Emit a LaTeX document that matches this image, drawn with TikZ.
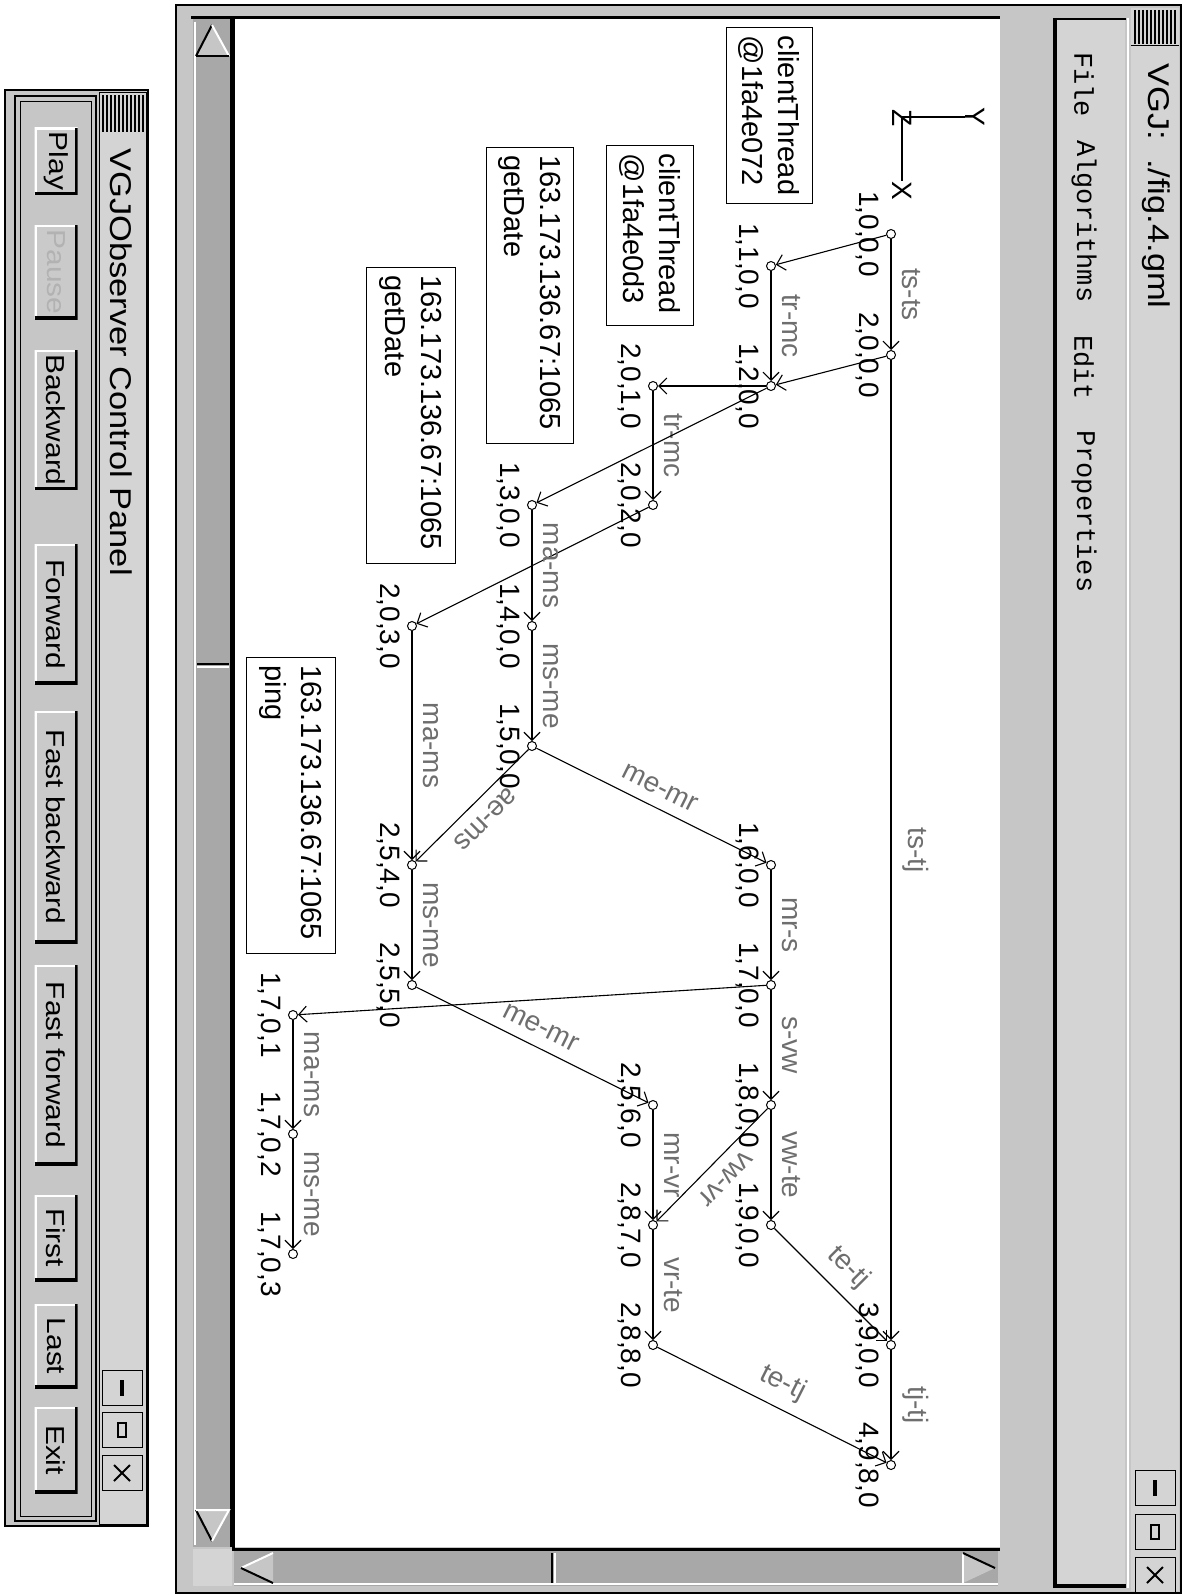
\documentclass[tikz,border=0pt]{standalone}
\usepackage{fontspec}
\setmainfont{Liberation Sans}
\newfontfamily\menufont{Liberation Mono}
\newfontfamily\widefont[FakeStretch=1.15]{Liberation Sans}
\usetikzlibrary{arrows.meta}
\definecolor{winbg}{HTML}{C6C6C6}
\definecolor{barbg}{HTML}{D4D4D4}
\definecolor{trough}{HTML}{A8A8A8}
\definecolor{btnface}{HTML}{CACACA}
\definecolor{lblgray}{HTML}{6E6E6E}

\begin{document}
\begin{tikzpicture}[x=1pt,y=-1pt,
    vtx/.style={circle,draw,fill=white,line width=1pt,minimum size=9pt,inner sep=0pt},
    cl/.style={rotate=-90,anchor=north,inner sep=0pt,font=\fontsize{28}{30}\selectfont},
    el/.style={sloped,allow upside down,above=11pt,inner sep=0pt,text=lblgray,font=\fontsize{28}{30}\selectfont},
    msg/.style={line width=1.1pt,-{Straight Barb[length=8pt,width=16pt]}},
    infobox/.style={draw,line width=1.2pt,rotate=-90,anchor=north west,align=left,inner xsep=8pt,inner ysep=0pt,font=\fontsize{29}{36}\selectfont},
    wtitle/.style={rotate=-90,anchor=west,inner sep=0pt,font=\widefont\fontsize{30}{32}\selectfont},
    mitem/.style={rotate=-90,anchor=west,inner sep=0pt,font=\menufont\fontsize{27}{29}\selectfont},
    btn/.style={rotate=-90,fill=btnface,minimum height=43pt,inner xsep=4pt,font=\widefont\fontsize{26}{28}\selectfont,
      path picture={
        \draw[white,line width=4pt] (path picture bounding box.south west) -- (path picture bounding box.north west) -- (path picture bounding box.north east);
        \draw[line width=6pt] (path picture bounding box.south west) -- (path picture bounding box.south east) -- (path picture bounding box.north east);}},
    wbtn/.style={draw,fill=barbg,line width=1pt,minimum width=40pt,minimum height=35pt,inner sep=0pt}]
\useasboundingbox (0,0) rectangle (1184,1595);

% control panel window
\draw[fill=winbg,line width=1.5pt] (5,90) rectangle (148,1526);
\draw[fill=barbg] (99,92) rectangle (146,1524);
\foreach \g in {103,107,...,143} \draw[line width=1.2pt] (\g,95) -- (\g,132);
\node[wtitle] (cptitle) at (121,148) {VGJObserver Control Panel};
\draw[line width=2pt] (15,96) rectangle (96,1521);
\draw[line width=0.8pt] (20,101) rectangle (91,1516);
\node[btn,minimum width=67pt] (bplay) at (56,161) {Play};
\node[btn,minimum width=94pt,text=gray!60] (bpause) at (56,272) {Pause};
\node[btn,minimum width=128pt] (bback) at (56,420) {Backward};
\node[btn,minimum width=140pt] (bfwd) at (56,614) {Forward};
\node[btn,minimum width=232pt] (bfback) at (56,827) {Fast backward};
\node[btn,minimum width=200pt] (bffwd) at (56,1065) {Fast forward};
\node[btn,minimum width=86pt] (bfirst) at (56,1238) {First};
\node[btn,minimum width=84pt] (blast) at (56,1346) {Last};
\node[btn,minimum width=86pt] (bexit) at (56,1450) {Exit};
\node[wbtn] (cpmin) at (122,1388) {};
\node[wbtn] (cpmax) at (122,1430) {};
\node[wbtn] (cpclose) at (122,1473) {};
\fill (cpmin.center) ++(-2,-8) rectangle ++(4,16);
\draw[line width=2.5pt] (cpmax.center) ++(-4,-7) rectangle ++(8,14);
\draw[line width=2pt] (cpclose.center) ++(-8,-8) -- ++(16,16) ++(0,-16) -- ++(-16,16);

% main window frame
\draw[fill=winbg,line width=1.5pt] (176,5) rectangle (1181,1593);
\fill[trough] (193,19) rectangle (232,1547);
\draw[white,line width=2pt] (195,22) -- (195,1545);
\fill[trough] (234,1550) rectangle (998,1586);
\draw[white,line width=2pt] (234,1584) -- (998,1584);
\fill[barbg] (193,1549) rectangle (232,1586);
\fill[white] (234,19) rectangle (1000,1547);
\draw[line width=3pt] (191,18) -- (1000,18);
\draw[line width=3pt] (233,18) -- (233,1549) -- (1000,1549);
\draw[line width=2pt] (231,19) -- (231,1547);
% scroll arrows and thumbs
\fill[winbg] (196,56) -- (212,25) -- (229,56) -- cycle;
\draw[line width=2pt] (196,56) -- (212,25);
\draw[white,line width=2pt] (212,25) -- (229,56);
\draw[line width=2pt] (196,56) -- (229,56);
\fill[winbg] (196,1510) -- (212,1541) -- (229,1510) -- cycle;
\draw[line width=2pt] (196,1510) -- (212,1541);
\draw[white,line width=2pt] (212,1541) -- (229,1510) -- (196,1510);
\draw[line width=2.5pt] (197,664) -- (229,664);
\draw[white,line width=2pt] (197,667) -- (229,667);
\fill[winbg] (241,1568) -- (273,1553) -- (273,1583) -- cycle;
\draw[white,line width=2pt] (241,1568) -- (273,1553);
\draw[line width=2pt] (241,1568) -- (273,1583);
\fill[winbg] (995,1568) -- (963,1553) -- (963,1583) -- cycle;
\draw[white,line width=2pt] (963,1583) -- (963,1553);
\draw[line width=2pt] (963,1553) -- (995,1568);
\draw[line width=2.5pt] (552,1553) -- (552,1583);
\draw[white,line width=2pt] (555,1553) -- (555,1583);
% menu bar and title bar
\draw[line width=4pt] (1055,18) -- (1055,1586) -- (1126,1586);
\draw[line width=2pt] (1055,19) -- (1126,19);
\fill[barbg] (1057,20) rectangle (1125,1584);
\draw[white,line width=2pt] (1128,18) -- (1128,1588);
\fill[barbg] (1131,8) rectangle (1179,1591);
\foreach \g in {1135,1139,...,1175} \draw[line width=1.2pt] (\g,10) -- (\g,44);
\draw[line width=1pt] (1131,46) -- (1179,46);
\node[wtitle] (wintitle) at (1156,63) {VGJ:\ \ ./fig.4.gml};
\node[mitem] (mfile) at (1084,52) {File};
\node[mitem] (malg) at (1084,140) {Algorithms};
\node[mitem] (medit) at (1084,335) {Edit};
\node[mitem] (mprop) at (1084,430) {Properties};
\node[wbtn] (wmin) at (1155,1488) {};
\node[wbtn] (wmax) at (1155,1532) {};
\node[wbtn] (wclose) at (1155,1575) {};
\fill (wmin.center) ++(-2,-8) rectangle ++(4,16);
\draw[line width=2.5pt] (wmax.center) ++(-4,-7) rectangle ++(8,14);
\draw[line width=2pt] (wclose.center) ++(-8,-8) -- ++(16,16) ++(0,-16) -- ++(-16,16);

% axes
\coordinate (ao) at (902,117);
\node[cl,anchor=center] (az) at (902,118) {Z};
\node[cl,anchor=center] (ay) at (975,117) {Y};
\node[cl,anchor=center] (ax) at (902,191) {X};
\draw[line width=1.2pt] (ao) -- (ay.south);
\draw[line width=1.2pt] (ao) -- (ax.west);

% info boxes
\node[infobox,text width=160pt,minimum height=86pt] (ct1) at (813,27) {clientThread\\@1fa4e072};
\node[infobox,text width=164pt,minimum height=87pt] (ct2) at (694,145) {clientThread\\@1fa4e0d3};
\node[infobox,text width=280pt,minimum height=87pt] (ip1) at (574,147) {163.173.136.67:1065\\getDate};
\node[infobox,text width=280pt,minimum height=89pt] (ip2) at (456,267) {163.173.136.67:1065\\getDate};
\node[infobox,text width=280pt,minimum height=89pt] (ip3) at (336,657) {163.173.136.67:1065\\ping};

% vertices
\node[vtx] (a1) at (891,234) {};
\node[vtx] (a2) at (891,355) {};
\node[vtx] (a3) at (891,1345) {};
\node[vtx] (a4) at (891,1465) {};
\node[vtx] (b1) at (771,266) {};
\node[vtx] (b2) at (771,386) {};
\node[vtx] (b3) at (771,865) {};
\node[vtx] (b4) at (771,985) {};
\node[vtx] (b5) at (771,1105) {};
\node[vtx] (b6) at (771,1225) {};
\node[vtx] (c1) at (653,386) {};
\node[vtx] (c2) at (653,505) {};
\node[vtx] (c3) at (653,1105) {};
\node[vtx] (c4) at (653,1225) {};
\node[vtx] (c5) at (653,1345) {};
\node[vtx] (d1) at (532,505) {};
\node[vtx] (d2) at (532,626) {};
\node[vtx] (d3) at (532,746) {};
\node[vtx] (e1) at (412,626) {};
\node[vtx] (e2) at (412,865) {};
\node[vtx] (e3) at (412,985) {};
\node[vtx] (f1) at (293,1015) {};
\node[vtx] (f2) at (293,1134) {};
\node[vtx] (f3) at (293,1254) {};

% messages
\draw[msg] (a1) -- node[el] {ts-ts} (a2);
\draw[msg] (a2) -- node[el] {ts-tj} (a3);
\draw[msg] (a3) -- node[el] {tj-tj} (a4);
\draw[msg] (a1) -- (b1);
\draw[msg] (b1) -- node[el] {tr-mc} (b2);
\draw[msg] (a2) -- (b2);
\draw[msg] (b2) -- (c1);
\draw[msg] (c1) -- node[el] {tr-mc} (c2);
\draw[msg] (b2) -- (d1);
\draw[msg] (c2) -- (e1);
\draw[msg] (d1) -- node[el] {ma-ms} (d2);
\draw[msg] (d2) -- node[el] {ms-me} (d3);
\draw[msg] (d3) -- node[el] {me-mr} (b3);
\draw[msg] (d3) -- node[el] {ae-ms} (e2);
\draw[msg] (e1) -- node[el] {ma-ms} (e2);
\draw[msg] (e2) -- node[el] {ms-me} (e3);
\draw[msg] (b3) -- node[el] {mr-s} (b4);
\draw[msg] (b4) -- node[el] {s-vw} (b5);
\draw[msg] (b5) -- node[el] {vw-te} (b6);
\draw[msg] (b4) -- (f1);
\draw[msg] (e3) -- node[el] {me-mr} (c3);
\draw[msg] (c3) -- node[el] {mr-vr} (c4);
\draw[msg] (b5) -- node[el] {vw-vr} (c4);
\draw[msg] (c4) -- node[el] {vr-te} (c5);
\draw[msg] (b6) -- node[el] {te-tj} (a3);
\draw[msg] (c5) -- node[el] {te-tj} (a4);
\draw[msg] (f1) -- node[el] {ma-ms} (f2);
\draw[msg] (f2) -- node[el] {ms-me} (f3);

% vertex labels
\node[cl] (la1) at (879,234) {1,0,0,0};
\node[cl] (la2) at (879,355) {2,0,0,0};
\node[cl] (la3) at (879,1345) {3,9,0,0};
\node[cl] (la4) at (879,1465) {4,9,8,0};
\node[cl] (lb1) at (759,266) {1,1,0,0};
\node[cl] (lb2) at (759,386) {1,2,0,0};
\node[cl] (lb3) at (759,865) {1,6,0,0};
\node[cl] (lb4) at (759,985) {1,7,0,0};
\node[cl] (lb5) at (759,1105) {1,8,0,0};
\node[cl] (lb6) at (759,1225) {1,9,0,0};
\node[cl] (lc1) at (641,386) {2,0,1,0};
\node[cl] (lc2) at (641,505) {2,0,2,0};
\node[cl] (lc3) at (641,1105) {2,5,6,0};
\node[cl] (lc4) at (641,1225) {2,8,7,0};
\node[cl] (lc5) at (641,1345) {2,8,8,0};
\node[cl] (ld1) at (520,505) {1,3,0,0};
\node[cl] (ld2) at (520,626) {1,4,0,0};
\node[cl] (ld3) at (520,746) {1,5,0,0};
\node[cl] (le1) at (400,626) {2,0,3,0};
\node[cl] (le2) at (400,865) {2,5,4,0};
\node[cl] (le3) at (400,985) {2,5,5,0};
\node[cl] (lf1) at (281,1015) {1,7,0,1};
\node[cl] (lf2) at (281,1134) {1,7,0,2};
\node[cl] (lf3) at (281,1254) {1,7,0,3};
\end{tikzpicture}
\end{document}
